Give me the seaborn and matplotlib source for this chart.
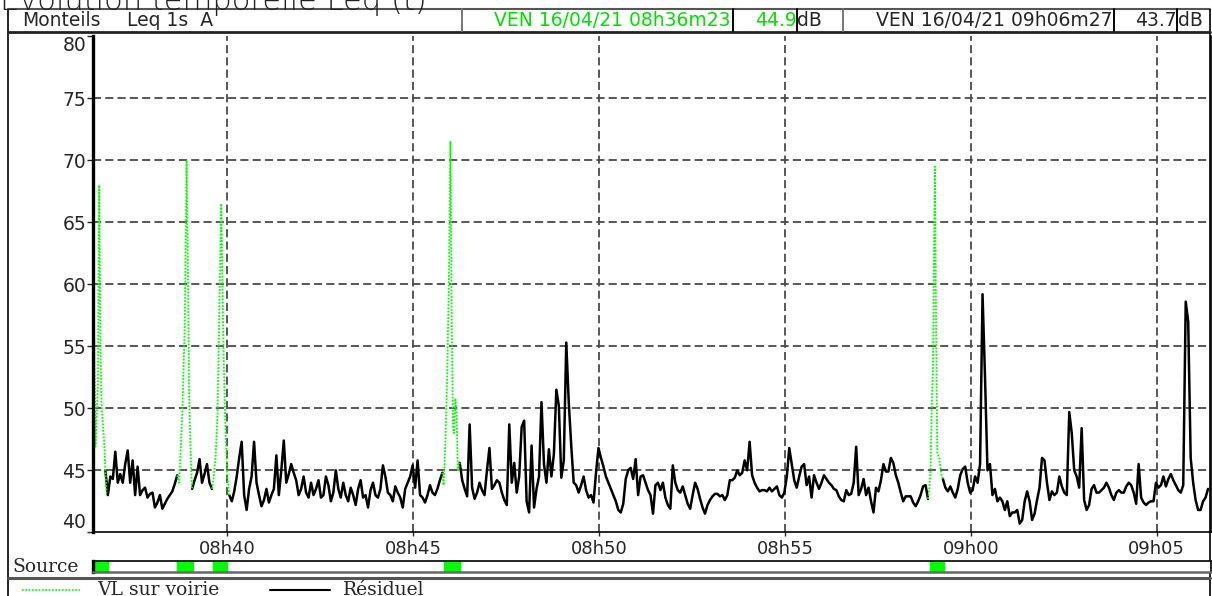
import numpy as np
import pandas as pd
import matplotlib
matplotlib.use("Agg")
import matplotlib.pyplot as plt
import seaborn as sns

# ---------------- data ----------------
start_label = "08h36m23"
end_label = "09h06m27"
step_s = 4

# Leq 1s "Résiduel" (dB(A)), one row per minute, 4 s steps, NaN where source active
res_m00 = [np.nan, np.nan, np.nan, np.nan, np.nan, 45.0, 43.0, 44.5, 44.3, 46.5, 44.0, 44.7, 44.0, 45.5, 46.6]
res_m01 = [44.0, 45.8, 43.0, 45.3, 43.0, 43.4, 43.6, 42.8, 43.1, 43.2, 42.0, 42.4, 43.0, 41.9, 42.3]
res_m02 = [42.7, 43.0, 43.3, 43.9, 44.6, np.nan, np.nan, np.nan, np.nan, np.nan, 43.5, 44.2, 44.8, 45.9, 44.0]
res_m03 = [44.7, 45.5, 44.0, 43.5, np.nan, np.nan, np.nan, np.nan, np.nan, np.nan, 43.0, 42.5, 43.3, 44.5, 46.0]
res_m04 = [47.3, 43.0, 41.8, 43.5, 44.5, 47.3, 44.0, 43.0, 42.1, 42.6, 43.5, 42.4, 43.0, 43.5, 46.2]
res_m05 = [43.0, 45.0, 47.4, 44.0, 44.7, 45.5, 44.8, 44.2, 43.0, 43.5, 44.5, 43.2, 42.8, 44.0, 43.0]
res_m06 = [43.5, 44.2, 42.8, 43.0, 44.5, 43.8, 42.5, 43.2, 45.0, 43.5, 42.8, 44.0, 43.0, 42.5, 43.6]
res_m07 = [43.0, 42.2, 43.5, 44.2, 42.8, 43.0, 42.0, 43.4, 44.0, 43.0, 42.8, 43.5, 45.4, 44.5, 43.2]
res_m08 = [43.0, 42.5, 43.7, 43.2, 42.8, 42.0, 43.5, 44.0, 44.5, 45.4, 43.6, 45.8, 43.0, 42.8, 42.4]
res_m09 = [43.0, 43.8, 43.2, 43.0, 43.5, 44.2, 44.8, np.nan, np.nan, np.nan, np.nan, np.nan, np.nan, 45.6, 44.2]
res_m10 = [43.5, 42.9, 48.7, 43.6, 42.7, 43.2, 44.0, 43.4, 43.0, 45.0, 46.8, 43.5, 43.8, 44.2, 44.0]
res_m11 = [43.2, 42.6, 42.2, 48.7, 44.0, 45.6, 43.2, 44.5, 48.5, 49.0, 42.5, 41.6, 47.0, 42.0, 43.5]
res_m12 = [44.5, 50.5, 45.5, 44.0, 46.7, 44.5, 46.3, 51.5, 50.2, 44.4, 45.8, 55.3, 50.5, 47.0, 44.0]
res_m13 = [43.8, 43.2, 43.8, 44.5, 43.4, 42.8, 43.0, 42.4, 44.8, 46.8, 46.0, 45.3, 44.5, 44.0, 43.5]
res_m14 = [43.0, 42.5, 41.8, 41.6, 42.3, 44.3, 45.0, 45.2, 44.3, 45.9, 43.0, 44.5, 44.6, 44.0, 43.4]
res_m15 = [43.0, 41.5, 43.8, 44.0, 43.4, 44.0, 42.8, 42.2, 41.9, 45.4, 44.0, 43.4, 43.2, 43.7, 43.0]
res_m16 = [42.3, 41.9, 43.0, 44.0, 43.5, 42.7, 42.0, 41.5, 42.2, 42.6, 42.9, 43.1, 43.1, 42.9, 43.0]
res_m17 = [42.6, 43.0, 44.2, 44.2, 44.4, 45.0, 44.6, 44.8, 45.8, 45.0, 47.3, 44.6, 44.0, 43.6, 43.3]
res_m18 = [43.4, 43.4, 43.3, 43.6, 43.3, 43.5, 43.7, 43.0, 42.8, 43.2, 44.5, 46.8, 45.5, 44.2, 43.6]
res_m19 = [44.5, 45.3, 45.5, 43.8, 44.5, 42.8, 44.6, 44.0, 43.5, 44.0, 44.6, 44.3, 44.0, 43.8, 43.5]
res_m20 = [43.4, 42.9, 42.6, 42.5, 43.4, 43.0, 43.1, 44.0, 46.9, 43.0, 43.5, 44.3, 43.0, 43.6, 42.5]
res_m21 = [41.6, 43.6, 43.3, 44.2, 45.5, 44.9, 44.9, 46.0, 45.6, 44.6, 44.0, 43.2, 42.5, 42.9, 42.9]
res_m22 = [42.9, 42.4, 42.1, 42.5, 43.0, 43.7, 43.8, 42.7, np.nan, np.nan, np.nan, np.nan, np.nan, 44.3, 43.6]
res_m23 = [43.3, 43.7, 43.2, 42.8, 43.5, 44.6, 45.1, 45.3, 44.0, 43.2, 43.4, 44.5, 44.0, 45.5, 59.2]
res_m24 = [52.5, 45.0, 45.5, 43.0, 43.5, 42.5, 42.8, 42.5, 41.8, 42.5, 41.3, 41.6, 41.6, 41.8, 40.7]
res_m25 = [41.0, 42.5, 43.3, 42.5, 41.0, 41.5, 42.6, 43.6, 46.0, 45.8, 44.0, 42.6, 43.3, 43.0, 43.2]
res_m26 = [44.5, 43.7, 43.2, 43.0, 49.7, 48.0, 45.0, 44.5, 43.6, 48.4, 42.6, 41.8, 42.2, 43.5, 43.8]
res_m27 = [43.2, 43.2, 43.4, 43.6, 44.0, 43.6, 43.0, 42.6, 43.2, 43.4, 43.2, 43.2, 43.7, 44.0, 43.8]
res_m28 = [43.2, 42.3, 45.5, 42.8, 42.4, 42.2, 42.4, 42.5, 42.5, 44.0, 43.6, 43.8, 44.5, 43.7, 44.3]
res_m29 = [44.7, 44.2, 43.8, 43.4, 43.2, 43.8, 58.6, 57.0, 46.0, 44.0, 42.6, 41.8, 41.8, 42.5, 42.8]
res_m30 = [43.5]

# "VL sur voirie" events: seconds after start, level dB(A)
vl1_t = [0, 1, 2, 4, 6, 8, 9, 10, 11, 12, 14, 16, 18, 20, 22]
vl1_v = [47.5, 49.3, 55.6, 46.9, 49.5, 52.0, 60.0, 68.0, 62.0, 55.0, 50.0, 48.8, 47.3, 45.0, 43.2]
vl2_t = [136, 139, 142, 145, 148, 150, 151, 153, 155, 157, 159, 160]
vl2_v = [44.6, 44.0, 47.0, 51.0, 56.5, 65.0, 70.0, 62.0, 52.0, 47.5, 44.5, 43.5]
vl3_t = [192, 195, 198, 201, 204, 207, 209, 211, 214, 217, 220]
vl3_v = [43.5, 44.5, 46.2, 49.5, 58.0, 66.5, 60.0, 54.0, 48.0, 44.5, 43.0]
vl4_t = [564, 566, 569, 572, 575, 577, 579, 581, 583, 585, 587, 589, 592]
vl4_v = [44.8, 43.8, 47.5, 53.0, 62.0, 71.5, 58.0, 48.5, 48.0, 50.8, 49.5, 45.0, 45.6]
vl5_t = [1348, 1350, 1352, 1354, 1356, 1359, 1361, 1363, 1366, 1369, 1372]
vl5_v = [42.7, 43.5, 45.0, 50.0, 53.5, 69.5, 56.5, 46.4, 46.0, 44.8, 44.3]

# source coding periods (seconds after start)
source_start = [0, 136, 194, 567, 1351]
source_end = [25, 162, 217, 593, 1374]

tick_labels = ["08h40", "08h45", "08h50", "08h55", "09h00", "09h05"]
y_ticks = [40, 45, 50, 55, 60, 65, 70, 75, 80]

title = "Evolution temporelle Leq (t)"
site = "Monteils"
index_name = "Leq 1s  A"
day = "VEN 16/04/21"
vl_level = "44.9"
res_level = "43.7"
legend_vl = "VL sur voirie"
legend_res = "Résiduel"
source_label = "Source"


def to_s(lbl):
    h, rest = lbl.split("h")
    m = rest[:2]
    s = rest.split("m")[1] if "m" in rest else "0"
    return int(h) * 3600 + int(m) * 60 + int(s)


t0 = to_s(start_label)
t_end = to_s(end_label) - t0
tick_pos = [to_s(l) - t0 for l in tick_labels]

res_rows = [res_m00, res_m01, res_m02, res_m03, res_m04, res_m05, res_m06, res_m07,
            res_m08, res_m09, res_m10, res_m11, res_m12, res_m13, res_m14, res_m15,
            res_m16, res_m17, res_m18, res_m19, res_m20, res_m21, res_m22, res_m23,
            res_m24, res_m25, res_m26, res_m27, res_m28, res_m29, res_m30]
res_vals = np.concatenate([np.asarray(r, float) for r in res_rows])
res_t = np.arange(len(res_vals)) * step_s
res_df = pd.DataFrame({"t": res_t, "v": res_vals})
res_df["seg"] = res_df["v"].isna().cumsum()
res_df = res_df.dropna()

vl_parts = [(vl1_t, vl1_v), (vl2_t, vl2_v), (vl3_t, vl3_v), (vl4_t, vl4_v), (vl5_t, vl5_v)]
vl_df = pd.concat([pd.DataFrame({"t": t, "v": v, "ev": i}) for i, (t, v) in enumerate(vl_parts)])

# ---------------- figure ----------------
sns.set_style("white")
plt.rcParams["font.family"] = ["DejaVu Sans"]

W, H = 1212, 596
fig = plt.figure(figsize=(W / 100, H / 100), dpi=100)
GREEN = "#00ff00"
GREEN_TXT = "#00e000"


def fx(px):
    return px / W


def fy(py):
    return 1 - py / H


# overlay for frames / header / legend (pixel coordinates)
ov = fig.add_axes([0, 0, 1, 1], zorder=0)
ov.set_xlim(0, W)
ov.set_ylim(H, 0)
ov.axis("off")

ov.text(0, 10.5, title, fontsize=22, fontweight=200, color="#222222", va="baseline", ha="left")
frame_kw = dict(color="black", lw=1.2, solid_capstyle="butt")
ov.plot([8, 8], [9, 596], **frame_kw)
ov.plot([8, 1210], [9, 9], color="#555555", lw=1.5)
ov.plot([1210, 1210], [9, 596], **frame_kw)
ov.plot([8, 1210], [32, 32], color="#222222", lw=2.0)
for xb, c in [(462, "#777777"), (732.5, "black"), (796.5, "black"), (842.5, "#777777"),
              (1113.5, "black"), (1177, "black")]:
    ov.plot([xb, xb], [9, 31], color=c, lw=1.4)
ov.plot([8, 1210], [577.5, 577.5], color="#555555", lw=2.2)

ov.text(22, 21, site, fontsize=13.5, va="center", ha="left")
ov.text(127, 21, index_name, fontsize=13.5, va="center", ha="left")
ov.text(731, 21, f"{day} {start_label}", fontsize=13.5, va="center", ha="right", color=GREEN_TXT)
ov.text(797, 21, vl_level, fontsize=13.5, va="center", ha="right", color=GREEN_TXT)
ov.text(797.5, 21, "dB", fontsize=13.5, va="center", ha="left")
ov.text(1112, 21, f"{day} {end_label}", fontsize=13.5, va="center", ha="right")
ov.text(1177, 21, res_level, fontsize=13.5, va="center", ha="right")
ov.text(1178, 21, "dB", fontsize=13.5, va="center", ha="left")

ov.text(12, 567.5, source_label, fontsize=13.5, family="DejaVu Serif", va="center", ha="left")
ov.plot([22, 80], [589.5, 589.5], color=GREEN, lw=1.2, ls=(0, (1, 1)))
ov.text(97, 590, legend_vl, fontsize=13.5, family="DejaVu Serif", va="center", ha="left")
ov.plot([270, 330], [589.5, 589.5], color="black", lw=1.5)
ov.text(343, 590, legend_res, fontsize=13.5, family="DejaVu Serif", va="center", ha="left")

# main plot
ax = fig.add_axes([fx(93), fy(532.3), fx(1210.5 - 93), (532.3 - 36.3) / H], zorder=2)
ax.set_facecolor("none")
sns.lineplot(data=res_df, x="t", y="v", units="seg", estimator=None, color="black",
             lw=1.8, ax=ax, legend=False)
sns.lineplot(data=vl_df, x="t", y="v", units="ev", estimator=None, color=GREEN,
             lw=1.3, ls=(0, (1, 0.8)), ax=ax, legend=False)
ax.set_xlim(0, t_end)
ax.set_ylim(40, 80)
ax.set_xlabel("")
ax.set_ylabel("")
ax.set_xticks(tick_pos)
ax.set_xticklabels(tick_labels)
ax.set_yticks(y_ticks)
ax.set_yticklabels([str(v) for v in y_ticks])
ax.tick_params(axis="y", length=4.3, width=1, pad=0.5, labelsize=13.5, direction="out", left=True)
ax.tick_params(axis="x", length=3.2, width=1, pad=2.5, labelsize=13, direction="out", bottom=True)
for tk in ax.yaxis.get_major_ticks():
    if tk.label1.get_text() == "80":
        tk.label1.set_va("top")
    elif tk.label1.get_text() == "40":
        tk.label1.set_va("bottom")
grid_kw = dict(color="#4a4a4a", lw=1.3, dashes=(4.5, 2.3), zorder=0)
for yv in y_ticks[1:-1]:
    ax.axhline(yv, **grid_kw)
for xv in tick_pos:
    ax.axvline(xv, **grid_kw)
ax.spines["top"].set_visible(False)
ax.spines["left"].set_linewidth(2.4)
ax.spines["bottom"].set_linewidth(1.2)
ax.spines["right"].set_linewidth(1.2)
for s in ax.spines.values():
    s.set_color("black")

# source bar
sb = fig.add_axes([fx(93), fy(572), fx(1210.5 - 93), 11 / H], zorder=2)
sb.broken_barh([(s, e - s) for s, e in zip(source_start, source_end)], (0, 1), color=GREEN)
sb.set_xlim(0, t_end)
sb.set_ylim(0, 1)
sb.set_xticks([])
sb.set_yticks([])
for s in sb.spines.values():
    s.set_color("black")
    s.set_linewidth(1.2)
sb.spines["left"].set_linewidth(2.4)
sb.spines["bottom"].set_color("#666666")
sb.spines["bottom"].set_linewidth(1.8)

fig.savefig("out.png", dpi=100)
